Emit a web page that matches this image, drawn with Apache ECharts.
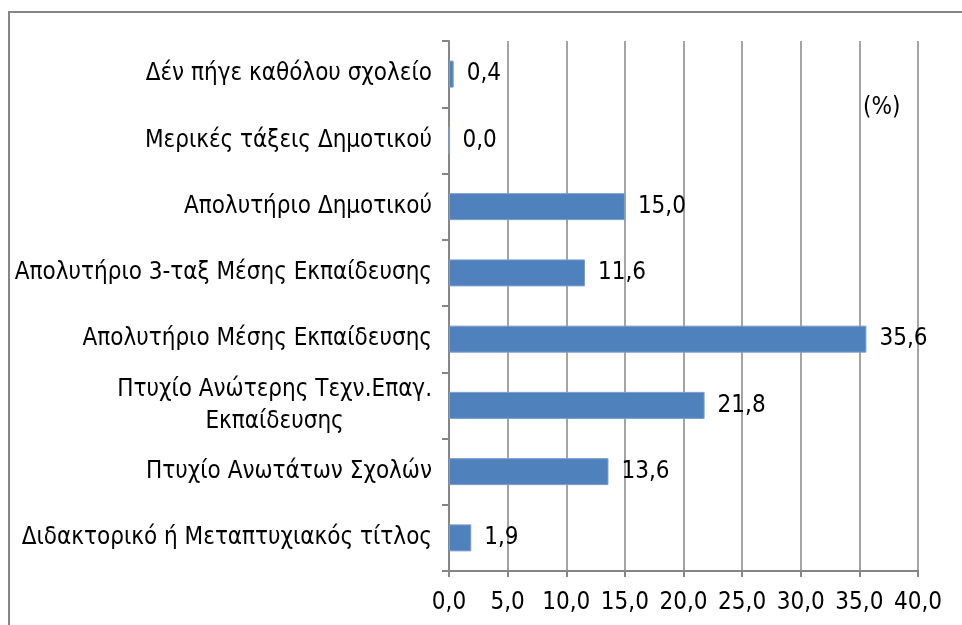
<!DOCTYPE html>
<html>
<head>
  <meta charset="utf-8" />
  <title>ECharts</title>
  <script src="https://cdn.jsdelivr.net/npm/echarts@6/dist/echarts.min.js"></script>
  <style>
    html, body {
      height: 100%;
      margin: 0;
      padding: 0;
      background: #fff;
      overflow: hidden;
    }
    #main {
      width: 962px;
      height: 625px;
    }
  </style>
</head>
<body>
  <div id="main"></div>

  <script type="text/javascript">
    const categories = [
      'Δέν πήγε καθόλου σχολείο',
      'Μερικές τάξεις Δημοτικού',
      'Απολυτήριο Δημοτικού',
      'Απολυτήριο 3-ταξ Μέσης Εκπαίδευσης',
      'Απολυτήριο Μέσης Εκπαίδευσης',
      'Πτυχίο Ανώτερης Τεχν.Επαγ.\nΕκπαίδευσης',
      'Πτυχίο Ανωτάτων Σχολών',
      'Διδακτορικό ή Μεταπτυχιακός τίτλος'
    ];
    const values = [0.4, 0.0, 15.0, 11.6, 35.6, 21.8, 13.6, 1.9];
    const unitLabel = '(%)';

    const font = '"DejaVu Sans Condensed", "DejaVu Sans", sans-serif';
    const axisGray = '#868686';

    const chart = echarts.init(document.getElementById('main'));

    const option = {
      animation: false,
      grid: { left: 449, right: 44, top: 41, bottom: 54, containLabel: false },
      graphic: [
        {
          type: 'rect',
          shape: { x: 9, y: 12, width: 1000, height: 700 },
          style: { fill: 'none', stroke: axisGray, lineWidth: 2 },
          silent: true
        },
        {
          type: 'text',
          left: 863,
          top: 96,
          style: { text: unitLabel, fontFamily: font, fontSize: 24, fill: '#000' }
        }
      ],
      xAxis: {
        type: 'value',
        min: 0,
        max: 40,
        interval: 5,
        axisLine: { show: true, lineStyle: { color: axisGray, width: 2 } },
        axisTick: { show: true, length: 6, lineStyle: { color: axisGray, width: 2 } },
        splitLine: { show: true, lineStyle: { color: axisGray, width: 1.5 } },
        axisLabel: {
          color: '#000',
          fontFamily: font,
          fontSize: 24,
          margin: 20,
          formatter: v => v.toFixed(1).replace('.', ',')
        }
      },
      yAxis: {
        type: 'category',
        inverse: true,
        data: categories,
        axisLine: { show: true, lineStyle: { color: axisGray, width: 2 } },
        axisTick: { show: true, length: 7, lineStyle: { color: axisGray, width: 2 } },
        axisLabel: {
          color: '#000',
          fontFamily: font,
          fontSize: 24,
          margin: 17,
          formatter: v => v.split('\n').map(s => '{c|' + s + '}').join('\n'),
          rich: {
            c: { align: 'center', fontFamily: font, fontSize: 24, color: '#000', lineHeight: 32 }
          }
        }
      },
      series: [
        {
          type: 'bar',
          data: values,
          barWidth: 27,
          itemStyle: { color: '#4f81bd', borderColor: '#7a9fcf', borderWidth: 1 },
          label: {
            show: true,
            position: 'right',
            distance: 13,
            color: '#000',
            fontFamily: font,
            fontSize: 24,
            formatter: p => p.value.toFixed(1).replace('.', ',')
          }
        }
      ]
    };

    chart.setOption(option);
  </script>
</body>
</html>
